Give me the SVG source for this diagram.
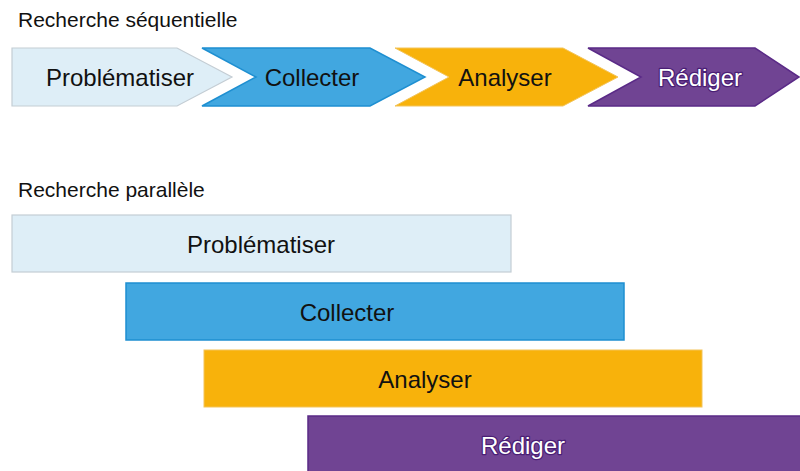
<svg xmlns="http://www.w3.org/2000/svg" width="800" height="471" viewBox="0 0 800 471">
<style>
.title{font-family:"Liberation Sans",Arial,sans-serif;font-size:21px;fill:#111}
.lbl{font-family:"Liberation Sans",Arial,sans-serif;font-size:24px;fill:#111;text-anchor:middle}
.wlbl{font-family:"Liberation Sans",Arial,sans-serif;font-size:24px;fill:#fff;text-anchor:middle;stroke:#4a1f75;stroke-width:2.5;paint-order:stroke;stroke-linejoin:round}
.s1{fill:#DEEEF7;stroke:#C4CDD4;stroke-width:1.2}
.s2{fill:#41A7E0;stroke:#1E8FD1;stroke-width:1.5}
.s3{fill:#F8B20B;stroke:#F3C45A;stroke-width:1}
.s4{fill:#704493;stroke:#5A2A87;stroke-width:1.5}
</style>
<rect width="800" height="471" fill="#fff"/>
<text class="title" x="18" y="27">Recherche séquentielle</text>
<text class="title" x="18" y="197">Recherche parallèle</text>

<g id="seq-problematiser">
<polygon class="s1" points="12,48 177,48 232,77 177,106 12,106"/>
<text class="lbl" x="120" y="86">Problématiser</text>
</g>
<g id="seq-collecter">
<polygon class="s2" points="202,48 370,48 425,77 370,106 202,106 256,77"/>
<text class="lbl" x="312" y="86">Collecter</text>
</g>
<g id="seq-analyser">
<polygon class="s3" points="395,48 563,48 618,77 563,106 395,106 449,77"/>
<text class="lbl" x="505" y="86">Analyser</text>
</g>
<g id="seq-rediger">
<polygon class="s4" points="588,48 755,48 799,77 755,106 588,106 641,77"/>
<text class="wlbl" x="700" y="86">Rédiger</text>
</g>

<g id="par-problematiser">
<rect class="s1" x="12" y="215" width="499" height="57"/>
<text class="lbl" x="261" y="253">Problématiser</text>
</g>
<g id="par-collecter">
<rect class="s2" x="126" y="283" width="498" height="57"/>
<text class="lbl" x="347" y="321">Collecter</text>
</g>
<g id="par-analyser">
<rect class="s3" x="204" y="350" width="498" height="57"/>
<text class="lbl" x="425" y="388">Analyser</text>
</g>
<g id="par-rediger">
<rect class="s4" x="308" y="416" width="500" height="60"/>
<text class="wlbl" x="523" y="454">Rédiger</text>
</g>
<g id="connectors"/>
</svg>
